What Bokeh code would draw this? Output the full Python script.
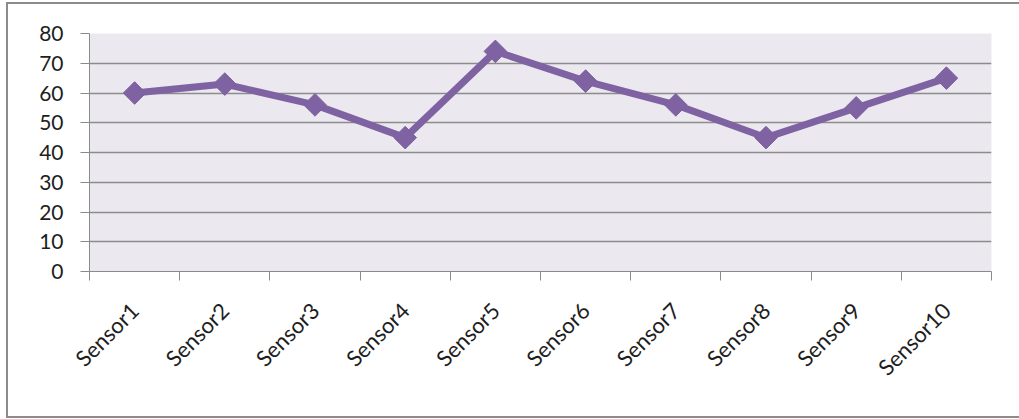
import numpy as np
from bokeh.plotting import figure
from bokeh.models import FixedTicker, Range1d
from bokeh.embed import file_html
from bokeh.resources import INLINE

# sensor readings
sensors = ["Sensor1", "Sensor2", "Sensor3", "Sensor4", "Sensor5",
           "Sensor6", "Sensor7", "Sensor8", "Sensor9", "Sensor10"]
readings = [60, 63, 56, 45, 74, 64, 56, 45, 55, 65]
y_ticks = [0, 10, 20, 30, 40, 50, 60, 70, 80]

LINE_COLOR = "#7f62a1"
AXIS_COLOR = "#8a8a8a"
FONT = "Lato"

n = len(sensors)
centers = [i + 0.5 for i in range(n)]
boundaries = [float(i) for i in range(n + 1)]

p = figure(width=1013, height=416, output_backend="svg", toolbar_location=None,
           x_range=Range1d(0, n), y_range=Range1d(y_ticks[0], y_ticks[-1]),
           min_border_left=81, min_border_right=30,
           min_border_top=29, min_border_bottom=149)

# chart area border on the left, top and bottom
p.styles = {
    "margin-left": "6px",
    "margin-top": "2px",
    "border-left": "2px solid #8c8c8c",
    "border-top": "2px solid #8c8c8c",
    "border-bottom": "2px solid #8c8c8c",
}

p.background_fill_color = "#ebe9ef"
p.border_fill_color = "white"
p.outline_line_color = None

# data series
p.line(centers, readings, line_color=LINE_COLOR, line_width=7, line_join="round")
p.scatter(centers, readings, marker="square", angle=np.pi / 4, size=16,
          fill_color=LINE_COLOR, line_color=LINE_COLOR)

# y axis and horizontal grid
p.yaxis.ticker = FixedTicker(ticks=y_ticks)
p.yaxis.axis_line_color = AXIS_COLOR
p.yaxis.major_tick_line_color = AXIS_COLOR
p.yaxis.major_tick_out = 9
p.yaxis.major_tick_in = 0
p.yaxis.minor_tick_line_color = None
p.yaxis.major_label_standoff = 17
p.yaxis.major_label_text_font = FONT
p.yaxis.major_label_text_font_size = "21px"
p.yaxis.major_label_text_color = "#1e1e1e"
p.ygrid.grid_line_color = "#8c8c8c"
p.ygrid.grid_line_width = 1.5
p.xgrid.grid_line_color = None

# x axis: labels at category centres, tick marks between categories
p.xaxis.ticker = FixedTicker(ticks=centers, minor_ticks=boundaries)
p.xaxis.major_label_overrides = {c: s for c, s in zip(centers, sensors)}
p.xaxis.major_tick_line_color = None
p.xaxis.minor_tick_line_color = AXIS_COLOR
p.xaxis.minor_tick_out = 9
p.xaxis.minor_tick_in = 0
p.xaxis.axis_line_color = AXIS_COLOR
p.xaxis.major_label_orientation = np.pi / 4
p.xaxis.major_label_standoff = 26
p.xaxis.major_label_text_font = FONT
p.xaxis.major_label_text_font_size = "22px"
p.xaxis.major_label_text_color = "#1e1e1e"

open("out.html", "w").write(file_html(p, INLINE))
